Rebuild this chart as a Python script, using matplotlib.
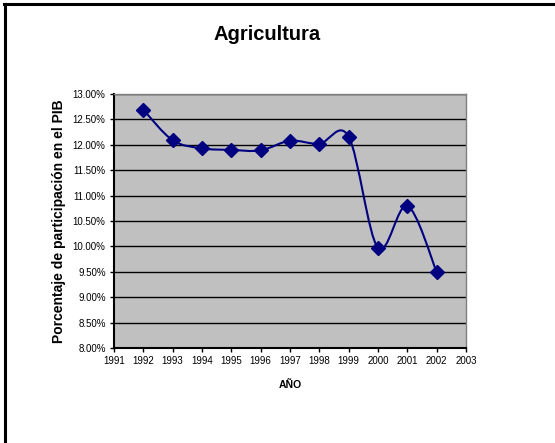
import matplotlib.pyplot as plt
import numpy as np
from matplotlib.lines import Line2D
from matplotlib.patches import PathPatch
from matplotlib.path import Path
from matplotlib.ticker import FuncFormatter, MultipleLocator

plt.rcParams['font.family'] = ['Liberation Sans', 'DejaVu Sans']

years = [1992, 1993, 1994, 1995, 1996, 1997, 1998, 1999, 2000, 2001, 2002]
share = [12.69, 12.09, 11.93, 11.90, 11.89, 12.08, 12.02, 12.16, 9.97, 10.80, 9.50]

title = 'Agricultura'
ylabel = 'Porcentaje de participación en el PIB'
xlabel = 'AÑO'


def smooth_path(x, y):
    """Bezier path through the points, Catmull-Rom style (like a spreadsheet smoothed line)."""
    pts = np.column_stack([x, y]).astype(float)
    ext = np.vstack([pts[0], pts, pts[-1]])
    verts = [pts[0]]
    codes = [Path.MOVETO]
    for i in range(len(pts) - 1):
        p0, p1, p2, p3 = ext[i], ext[i + 1], ext[i + 2], ext[i + 3]
        c1 = p1 + (p2 - p0) / 6
        c2 = p2 - (p3 - p1) / 6
        verts += [c1, c2, p2]
        codes += [Path.CURVE4] * 3
    return Path(verts, codes)


fig = plt.figure(figsize=(5.55, 4.43), dpi=100)
ax = fig.add_axes([0.2054, 0.2144, 0.6342, 0.5734])
ax.set_facecolor('#c0c0c0')

ax.set_xlim(1991, 2003)
ax.set_ylim(8.0, 13.0)
ax.xaxis.set_major_locator(MultipleLocator(1))
ax.yaxis.set_major_locator(MultipleLocator(0.5))
ax.yaxis.set_major_formatter(FuncFormatter(lambda v, p: f'{v:.2f}%'))
ax.grid(axis='y', color='black', linewidth=1.0)
ax.set_axisbelow(True)

for s in ('top', 'right'):
    ax.spines[s].set_color('#808080')
    ax.spines[s].set_linewidth(1.0)
for s in ('left', 'bottom'):
    ax.spines[s].set_color('black')
    ax.spines[s].set_linewidth(1.5)

ax.tick_params(axis='both', direction='out', length=3, width=1, labelsize=7, pad=3)

ax.add_patch(PathPatch(smooth_path(years, share), facecolor='none',
                       edgecolor='#000080', linewidth=1.5, zorder=3))
ax.plot(years, share, linestyle='none', marker='D', markersize=7.5,
        color='#000080', zorder=4)

ax.set_ylabel(ylabel, fontsize=10, fontweight='bold', labelpad=5)
ax.set_xlabel(xlabel, fontsize=7.5, fontweight='bold', labelpad=10)
fig.text(0.482, 0.923, title, ha='center', va='center', fontsize=14.5, fontweight='bold')

# frame lines along the top and left edge of the chart area
fig.add_artist(Line2D([0.008, 1.0], [0.991, 0.991], color='black', linewidth=2.2))
fig.add_artist(Line2D([0.009, 0.009], [0.0, 0.992], color='black', linewidth=2.2))

fig.savefig('out.png', dpi=100)
